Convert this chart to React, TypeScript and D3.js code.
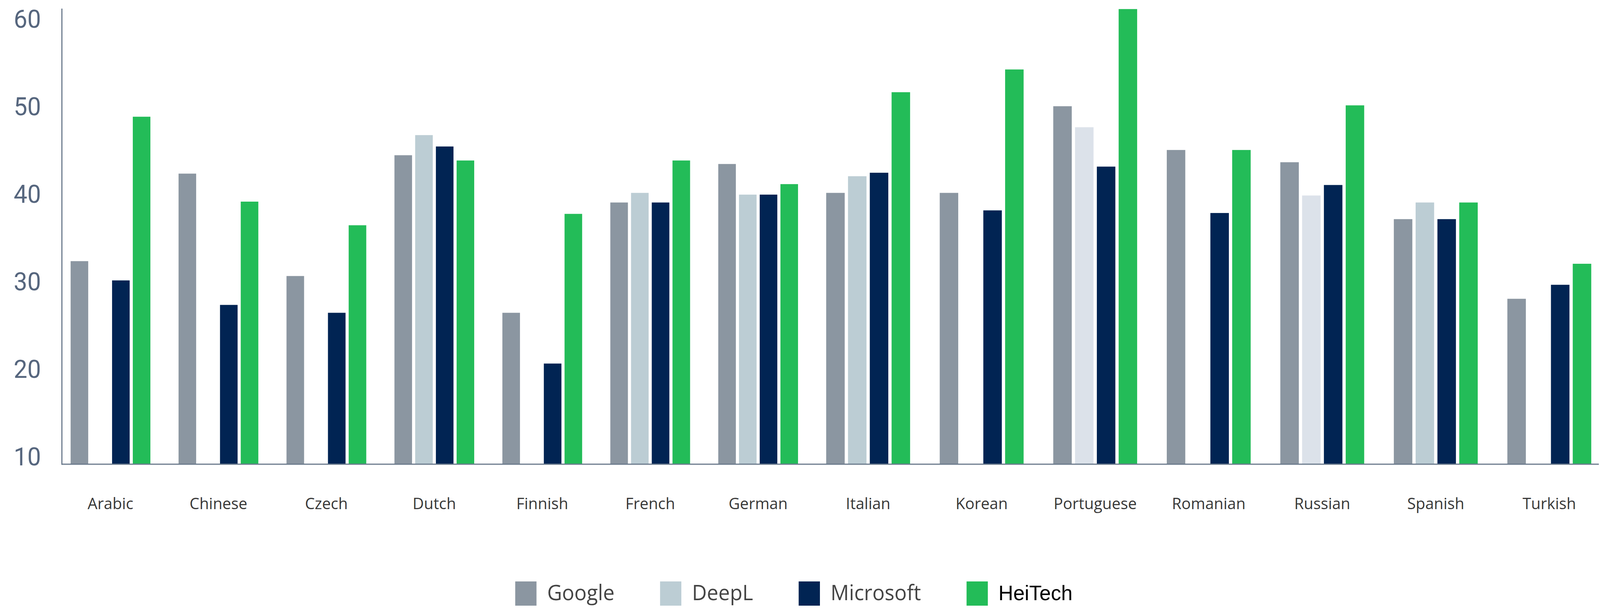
import React, { useEffect, useRef } from "react";
import * as d3 from "d3";

const categories = ["Arabic","Chinese","Czech","Dutch","Finnish","French","German","Italian","Korean","Portuguese","Romanian","Russian","Spanish","Turkish"];
const seriesNames = ["Google","DeepL","Microsoft","HeiTech"];
const google =    [33.2, 43.2, 31.5, 45.3, 27.3, 39.9, 44.3, 41.0, 41.0, 50.9, 45.9, 44.5, 38.0, 28.9];
const deepl =     [null, null, null, 47.6, null, 41.0, 40.8, 42.9, null, 48.5, null, 40.7, 39.9, null];
const microsoft = [31.0, 28.2, 27.3, 46.3, 21.5, 39.9, 40.8, 43.3, 39.0, 44.0, 38.7, 41.9, 38.0, 30.5];
const heitech =   [49.7, 40.0, 37.3, 44.7, 38.6, 44.7, 42.0, 52.5, 55.1, 62.0, 45.9, 51.0, 39.9, 32.9];
const yTicks = [10, 20, 30, 40, 50, 60];

const colors = ["#8b96a1", "#bccdd4", "#012453", "#23bc58"];
const paleDeepL = "#dce2ea";
const paleDeepLCategories = ["Portuguese", "Russian"];

const W = 4214, H = 1556;

export default function App() {
  const ref = useRef<SVGSVGElement>(null);
  useEffect(() => {
    document.body.style.margin = "0";
    document.body.style.overflow = "hidden";
    document.documentElement.style.overflow = "hidden";
    const svg = d3.select(ref.current);
    svg.selectAll("*").remove();

    const y = d3.scaleLinear().domain([10, 60]).range([1188, 68]);
    // group position scale (two sections with slightly different spacing)
    const gx = d3.scaleLinear().domain([0, 7, 13]).range([186, 2176, 3970]);
    const slot = 0.192, bw = 0.163;

    const series = [google, deepl, microsoft, heitech];
    const bars: { i: number; j: number; v: number }[] = [];
    series.forEach((arr, j) => arr.forEach((v, i) => { if (v != null) bars.push({ i, j, v: v as number }); }));

    svg.append("g").selectAll("rect").data(bars).join("rect")
      .attr("x", d => gx(d.i + d.j * slot))
      .attr("width", d => gx(d.i + d.j * slot + bw) - gx(d.i + d.j * slot))
      .attr("y", d => y(d.v))
      .attr("height", d => y(10) - y(d.v))
      .attr("fill", d => d.j === 1 && paleDeepLCategories.includes(categories[d.i]) ? paleDeepL : colors[d.j]);

    // axes
    const axisColor = "#6b7a8c";
    svg.append("line").attr("x1", 163).attr("x2", 163).attr("y1", y(62.05)).attr("y2", y(10) + 1.5)
      .attr("stroke", axisColor).attr("stroke-width", 3);
    svg.append("line").attr("x1", 163).attr("x2", 4211).attr("y1", y(10)).attr("y2", y(10))
      .attr("stroke", axisColor).attr("stroke-width", 3);

    svg.append("g").selectAll("text").data(yTicks).join("text")
      .attr("x", 36).attr("y", d => y(d) + 3)
      .attr("font-family", "Roboto, sans-serif").attr("font-size", 64)
      .attr("fill", "#56667e").text(d => d);

    svg.append("g").selectAll("text").data(categories).join("text")
      .attr("x", (d, i) => gx(i + (3 * slot + bw) / 2)).attr("y", 1303)
      .attr("text-anchor", "middle")
      .attr("font-family", "'Open Sans', sans-serif").attr("font-size", 41)
      .attr("fill", "#383838").text(d => d);

    // legend
    let lx = 1357;
    seriesNames.forEach((name, j) => {
      svg.append("rect").attr("x", lx).attr("y", 1488).attr("width", 56).attr("height", 62).attr("fill", colors[j]);
      const t = svg.append("text").attr("x", lx + 84).attr("y", 1536)
        .attr("font-family", j === 3 ? "'Liberation Sans', Arial, sans-serif" : "'Open Sans', sans-serif")
        .attr("font-size", j === 3 ? 54 : 54)
        .attr("fill", j === 3 ? "#000" : "#444").text(name);
      const w = (t.node() as SVGTextElement).getComputedTextLength();
      lx = lx + 84 + w + 120;
    });
  }, []);
  return (
    <svg ref={ref} viewBox={`0 0 ${W} ${H}`} preserveAspectRatio="none"
      style={{ display: "block", width: "100vw", height: "100vh", background: "#fff" }} />
  );
}
